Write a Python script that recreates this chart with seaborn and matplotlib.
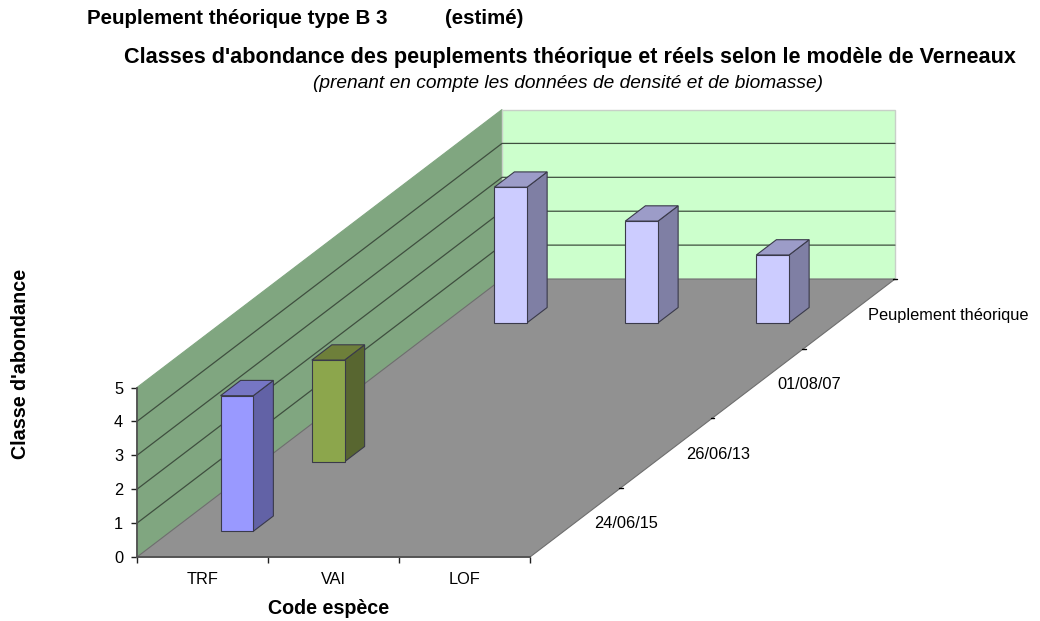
import matplotlib
matplotlib.use("Agg")
import matplotlib.pyplot as plt
import pandas as pd
import seaborn as sns
from matplotlib.patches import Polygon

# Abundance classes per sampling date (depth axis) and species code (category axis)
species = ["TRF", "VAI", "LOF"]
dates = ["24/06/15", "26/06/13", "01/08/07", "Peuplement théorique"]
class_2415 = [4, None, None]
class_2613 = [3, None, None]
class_0108 = [None, None, None]
class_theo = [4, 3, 2]
series_values = [class_2415, class_2613, class_0108, class_theo]
class_ticks = [0, 1, 2, 3, 4, 5]

front_colors = ["#9999FF", "#8CA64C", "#99CC99", "#CCCCFF"]
side_colors = ["#6262A6", "#586630", "#608060", "#7F7FA4"]
top_colors = ["#7676C4", "#6E7F3A", "#80A080", "#9C9CC8"]

WALL_SIDE, WALL_BACK, FLOOR = "#80A680", "#CCFFCC", "#919191"
GRID = "#3F4F3F"
EDGE = "#3A3A4A"

# Oblique projection: one depth step shifts right and up in axis units
SHEAR_X, SHEAR_Y = 0.6966, 2.05
BAR_W, BAR_D, BAR_LEFT, BAR_FRONT = 0.25, 0.22, 0.38, 0.37
N_CAT, N_DEPTH, Z_MAX = len(species), len(dates), class_ticks[-1]
TICK_FS = 11.8


def proj(c, d, z=0.0):
    return c + d * SHEAR_X, z + d * SHEAR_Y


sns.set_theme(style="white")
plt.rcParams["font.family"] = ["Liberation Sans", "DejaVu Sans"]

fig = plt.figure(figsize=(10.4, 6.21), dpi=100)
ax = fig.add_axes([0, 0, 1, 1])
ax.patch.set_alpha(0)


def face(points, color, zorder, edge=None, lw=0.8):
    ax.add_patch(Polygon(points, closed=True, facecolor=color,
                         edgecolor=edge if edge else color, linewidth=lw, zorder=zorder))


# Walls and floor
face([proj(0, 0), proj(0, N_DEPTH), proj(0, N_DEPTH, Z_MAX), proj(0, 0, Z_MAX)], WALL_SIDE, 0.5)
face([proj(0, N_DEPTH), proj(N_CAT, N_DEPTH), proj(N_CAT, N_DEPTH, Z_MAX), proj(0, N_DEPTH, Z_MAX)],
     WALL_BACK, 0.5, edge="#C8D0C8", lw=1.0)
face([proj(0, 0), proj(N_CAT, 0), proj(N_CAT, N_DEPTH), proj(0, N_DEPTH)], FLOOR, 0.6, edge="#6E6E6E")

for z in class_ticks[1:-1]:
    pts = [proj(0, 0, z), proj(0, N_DEPTH, z), proj(N_CAT, N_DEPTH, z)]
    ax.plot(*zip(*pts), color=GRID, lw=0.9, zorder=0.8)

# Bars, back row first so nearer rows sit on top
for row in reversed(range(N_DEPTH)):
    d0 = row + BAR_FRONT
    rows = [(c + BAR_LEFT + BAR_W / 2 + d0 * SHEAR_X, v, species[c])
            for c, v in enumerate(series_values[row]) if v is not None]
    if not rows:
        continue
    df = pd.DataFrame(rows, columns=["pos", "classe", "espece"])
    for c, v in enumerate(series_values[row]):
        if v is None:
            continue
        left = c + BAR_LEFT
        face([proj(left + BAR_W, d0), proj(left + BAR_W, d0 + BAR_D),
              proj(left + BAR_W, d0 + BAR_D, v), proj(left + BAR_W, d0, v)],
             side_colors[row], 3 + (N_DEPTH - row), edge=EDGE)
        face([proj(left, d0, v), proj(left + BAR_W, d0, v),
              proj(left + BAR_W, d0 + BAR_D, v), proj(left, d0 + BAR_D, v)],
             top_colors[row], 3 + (N_DEPTH - row), edge=EDGE)
    sns.barplot(data=df, x="pos", y="classe", native_scale=True, width=BAR_W,
                color=front_colors[row], saturation=1, errorbar=None, ax=ax,
                bottom=d0 * SHEAR_Y, edgecolor=EDGE, linewidth=0.8,
                zorder=3.5 + (N_DEPTH - row))

# Axes span the whole figure; limits keep one unit equal to a category / a class
PX_X0, PX_Y0, PX_CAT, PX_CLASS = 137, 557, 131, 33.9
ax.set_xlim(-PX_X0 / PX_CAT, (1040 - PX_X0) / PX_CAT)
ax.set_ylim(-(621 - PX_Y0) / PX_CLASS, PX_Y0 / PX_CLASS)
ax.set(xlabel="", ylabel="")

for name in ("top", "right"):
    ax.spines[name].set_visible(False)
for name, top in (("bottom", N_CAT), ("left", Z_MAX)):
    ax.spines[name].set_position(("data", 0))
    ax.spines[name].set_bounds(0, top)
    ax.spines[name].set_color("#505050")
    ax.spines[name].set_linewidth(1.3)
    ax.spines[name].set_zorder(2.5)

ax.set_xticks(range(N_CAT + 1), labels=[""] * (N_CAT + 1))
ax.set_xticks([c + 0.5 for c in range(N_CAT)], labels=species, minor=True)
ax.set_yticks(class_ticks, labels=[str(t) for t in class_ticks])
ax.tick_params(axis="x", which="major", direction="out", length=4, width=1, color="#202020",
               bottom=True, labelbottom=True)
ax.tick_params(axis="x", which="minor", length=0, pad=11, labelsize=TICK_FS, labelcolor="black", bottom=True)
ax.tick_params(axis="y", direction="out", length=4, width=1, color="#202020", pad=6,
               labelsize=TICK_FS, labelcolor="black", left=True)

# Depth axis ticks and labels along the right edge of the floor
for d in range(1, N_DEPTH + 1):
    x, y = proj(N_CAT, d)
    ax.plot([x - 0.015, x + 0.015], [y, y], color="black", lw=1.0, zorder=2.5)
for d, label in enumerate(dates):
    x, y = proj(N_CAT, d + 0.5)
    ax.text(x + 0.145, y - 0.05, label, ha="left", va="center", fontsize=TICK_FS, color="black")


def px_text(x, y, s, **kw):
    fig.text(x / 1040, 1 - y / 621, s, va="center", color="black", **kw)


px_text(87, 18, "Peuplement théorique type B 3          (estimé)", ha="left", fontsize=14.8, fontweight="bold")
px_text(570, 57, "Classes d'abondance des peuplements théorique et réels selon le modèle de Verneaux",
        ha="center", fontsize=15.6, fontweight="bold")
px_text(568, 84, "(prenant en compte les données de densité et de biomasse)",
        ha="center", fontsize=13.8, style="italic")
px_text(329, 608, "Code espèce", ha="center", fontsize=14.2, fontweight="bold")
px_text(21, 364, "Classe d'abondance", ha="center", fontsize=14.2, fontweight="bold", rotation=90)

fig.savefig("out.png", dpi=100)
